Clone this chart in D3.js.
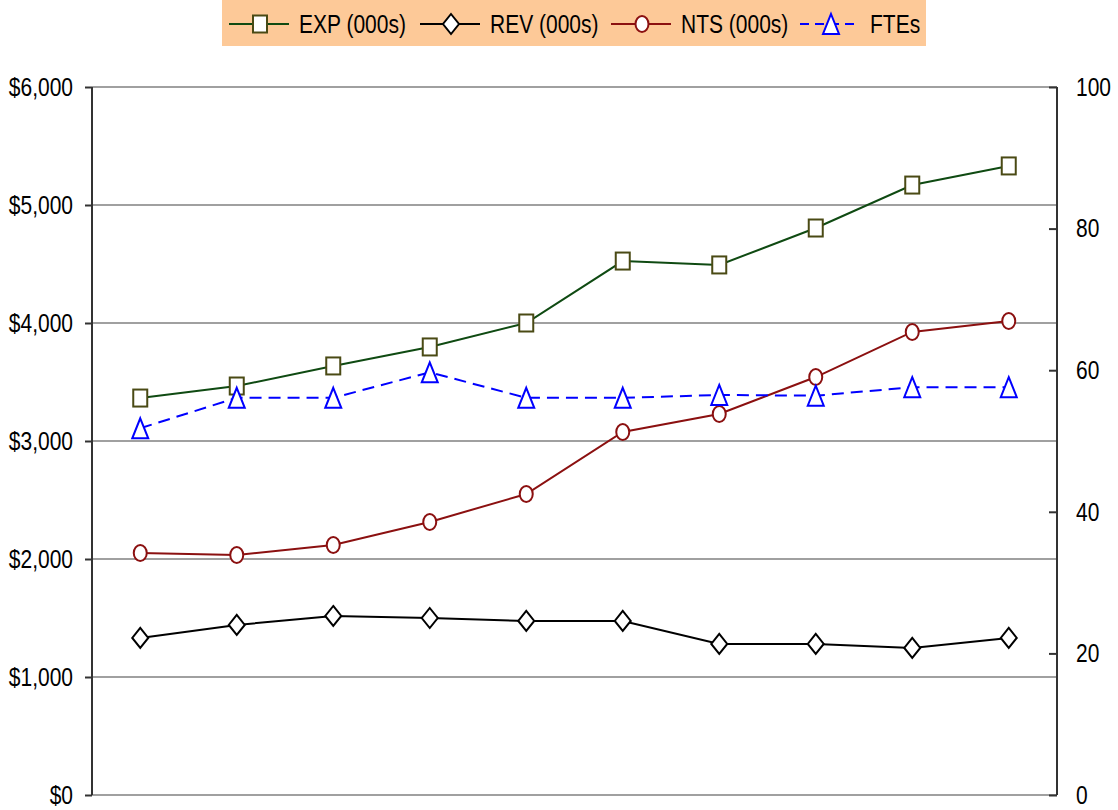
<!DOCTYPE html>
<html>
<head>
  <style>
    body{ margin:0; background:#fff; font-family:"Liberation Sans", Arial, sans-serif; }
    .grid line{ stroke:#808080; stroke-width:1.5px; }
    .axis path, .axis line{ stroke:#333; stroke-width:2px; }
    .axis text{ font-size:25px; fill:#000; }
    .legend-text{ font-size:25px; fill:#000; }
  </style>
  <script src="https://d3js.org/d3.v7.min.js"></script>
</head>
<body>
<div id="chart"></div>
<script>
const periods = ['1','2','3','4','5','6','7','8','9','10'];
const expValues = [3364, 3466, 3636, 3797, 4000, 4525, 4492, 4805, 5169, 5331];
const revValues = [1331, 1441, 1517, 1500, 1475, 1475, 1280, 1280, 1246, 1331];
const ntsValues = [2051, 2034, 2119, 2314, 2551, 3076, 3229, 3542, 3924, 4017];
const fteValues = [51.8, 56.1, 56.1, 59.7, 56.1, 56.1, 56.5, 56.4, 57.6, 57.6];
const leftTicks = [0, 1000, 2000, 3000, 4000, 5000, 6000];
const rightTicks = [0, 20, 40, 60, 80, 100];

const width = 1118, height = 810;
const margin = {top:87, right:61, bottom:15, left:92};
const squeeze = 0.84; // text looks horizontally narrowed

const svg = d3.select('#chart').append('svg')
  .attr('width', width).attr('height', height);

const x = d3.scaleBand().domain(periods)
  .range([margin.left, width - margin.right]);
const yL = d3.scaleLinear().domain([0, 6000])
  .range([height - margin.bottom, margin.top]);
const yR = d3.scaleLinear().domain([0, 100])
  .range([height - margin.bottom, margin.top]);
const cx = d => x(d) + x.bandwidth()/2;

// gridlines
svg.append('g').attr('class','grid')
  .selectAll('line').data(leftTicks).join('line')
  .attr('x1', margin.left).attr('x2', width - margin.right)
  .attr('y1', d => yL(d)).attr('y2', d => yL(d));

// axes
const gl = svg.append('g').attr('class','axis')
  .attr('transform', `translate(${margin.left},0)`)
  .call(d3.axisLeft(yL).tickValues(leftTicks).tickSize(7).tickSizeOuter(0)
    .tickFormat(d => '$' + d3.format(',')(d)));
gl.selectAll('text')
  .attr('x', -19/squeeze).attr('dy','0.33em')
  .attr('transform', `scale(${squeeze},1)`);

const gr = svg.append('g').attr('class','axis')
  .attr('transform', `translate(${width - margin.right},0)`)
  .call(d3.axisRight(yR).tickValues(rightTicks).tickSize(-8).tickSizeOuter(0));
gr.selectAll('text')
  .attr('x', 19/squeeze).attr('dy','0.33em')
  .attr('transform', `scale(${squeeze},1)`);
gr.select('.domain').attr('d', `M0,${yR(0)}V${yR(100)}`);
gl.select('.domain').attr('d', `M0,${yL(0)}V${yL(6000)}`);

// marker shapes (a little taller than wide)
const markers = {
  square: g => g.append('rect').attr('x',-7).attr('y',-8.5).attr('width',14).attr('height',17),
  diamond: g => g.append('path').attr('d','M0,-10L8,0L0,10L-8,0Z'),
  circle: g => g.append('ellipse').attr('rx',6.5).attr('ry',8),
  triangle: g => g.append('path').attr('d','M0,-10L8,10L-8,10Z')
};

const series = [
  {name:'EXP (000s)', values:expValues, y:yL, line:'#0f4a12', edge:'#4a4a14', marker:'square'},
  {name:'REV (000s)', values:revValues, y:yL, line:'#000', edge:'#000', marker:'diamond'},
  {name:'NTS (000s)', values:ntsValues, y:yL, line:'#8b1010', edge:'#8b1010', marker:'circle'},
  {name:'FTEs', values:fteValues, y:yR, line:'#0000ff', edge:'#0000ff', marker:'triangle', dash:'12,7'}
];

series.forEach(s => {
  const line = d3.line().x((d,i) => cx(periods[i])).y(d => s.y(d));
  svg.append('path')
    .attr('d', line(s.values))
    .attr('fill','none').attr('stroke', s.line).attr('stroke-width', 2)
    .attr('stroke-dasharray', s.dash || null);
  s.values.forEach((v,i) => {
    const g = svg.append('g').attr('transform', `translate(${cx(periods[i])},${s.y(v)})`);
    markers[s.marker](g).attr('fill','#fff').attr('stroke', s.edge).attr('stroke-width', 2);
  });
});

// legend
const legend = svg.append('g');
legend.append('rect').attr('x',222).attr('y',0).attr('width',704).attr('height',46)
  .attr('fill','#fdc998');
const legendX = [229, 420, 611, 800];
series.forEach((s,i) => {
  const lx = legendX[i];
  const g = legend.append('g').attr('transform', `translate(${lx},24)`);
  g.append('line').attr('x1',0).attr('x2',60).attr('y1',0).attr('y2',0)
    .attr('stroke', s.line).attr('stroke-width',2).attr('stroke-dasharray', s.dash ? '9,6' : null);
  const m = g.append('g').attr('transform','translate(31,0)');
  markers[s.marker](m).attr('fill','#fff').attr('stroke', s.edge).attr('stroke-width',2);
  g.append('text').attr('class','legend-text')
    .attr('x', 70/squeeze).attr('y', 0).attr('dy','0.35em')
    .attr('transform', `scale(${squeeze},1)`)
    .text(s.name);
});
</script>
</body>
</html>
